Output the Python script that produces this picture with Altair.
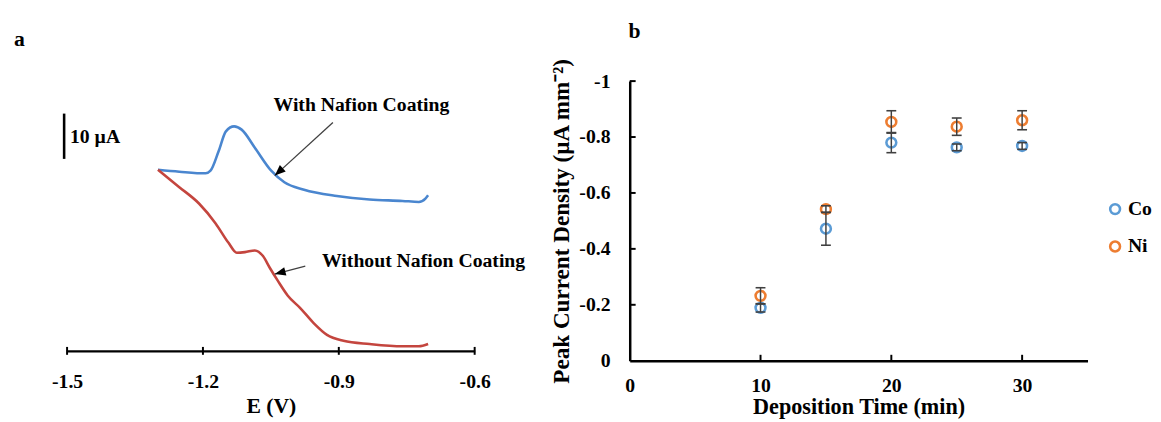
import altair as alt
import pandas as pd

FONT = "Liberation Serif"

# ---------------- Panel a : voltammograms ----------------
blue_E = [-1.2993, -1.2522, -1.1941, -1.1833, -1.1652, -1.1493, -1.1311, -1.1146, -1.0854,
          -1.0493, -1.0202, -0.9767, -0.9043, -0.8320, -0.7593, -0.7233, -0.7087, -0.7028]
blue_I = [40.0, 39.57, 39.20, 39.78, 44.13, 48.48, 49.57, 48.85, 44.85,
          39.78, 37.24, 35.59, 34.20, 33.41, 33.11, 32.89, 33.63, 34.35]
red_E = [-1.2993, -1.2522, -1.2087, -1.1724, -1.1435, -1.1254, -1.1072, -1.0854, -1.0674, -1.0528,
         -1.0348, -1.0130, -0.9841, -0.9550, -0.9261, -0.8898, -0.8320, -0.7593, -0.7233, -0.7028]
red_I = [40.0, 36.15, 32.54, 28.20, 23.85, 21.67, 21.80, 22.17, 20.93, 18.41,
         15.50, 12.24, 9.35, 6.09, 3.54, 2.24, 1.52, 1.02, 1.02, 1.52]
series_names = ["With Nafion Coating", "Without Nafion Coating"]
e_ticks = [-1.5, -1.2, -0.9, -0.6]

# annotations (data units of panel a)
ann_center_E = [-0.85]
ann_center_I = [54.35]
ann_center_txt = ["With Nafion Coating"]
ann_left_E = [-0.937, -1.4935]
ann_left_I = [19.78, 47.17]
ann_left_txt = ["Without Nafion Coating", "10 µA"]
arrow_tip_E = [-1.0413, -1.0413]
arrow_tip_I = [38.70, 16.96]
arrow_tail_E = [-0.913, -0.974]
arrow_tail_I = [50.43, 18.70]
arrow_angle = [227.5, 255.5]
scalebar_E = [-1.5065]
scalebar_lo = [42.39]
scalebar_hi = [52.39]
label_a_E = [-1.6174]
label_a_I = [67.4]

# ---------------- Panel b : peak current density ----------------
time_min = [10, 15, 20, 25, 30]
co_mean = [-0.189, -0.472, -0.780, -0.763, -0.768]
co_err = [0.015, 0.059, 0.036, 0.012, 0.012]
ni_mean = [-0.232, -0.542, -0.854, -0.837, -0.860]
ni_err = [0.029, 0.012, 0.040, 0.031, 0.034]
metals = ["Co", "Ni"]
t_ticks = [0, 10, 20, 30]
v_ticks = [0, -0.2, -0.4, -0.6, -0.8, -1]
label_b_t = [-0.1]
label_b_v = [-1.153]

BLUE_A, RED_A = "#4A86CF", "#C4453E"
BLUE_B, ORANGE_B = "#5B9BD5", "#ED7D31"
ERR = "#404040"

W_A, H_A = 414, 274
W_B, H_B = 465, 284

# ---------- build panel a ----------
rows = []
for name, es, cs in [(series_names[0], blue_E, blue_I), (series_names[1], red_E, red_I)]:
    for i, (e, c) in enumerate(zip(es, cs)):
        rows.append({"series": name, "E": e, "I": c, "idx": i})
df_curves = pd.DataFrame(rows)

axis_a = alt.Axis(values=e_ticks, labelExpr="'-' + format(abs(datum.value), '.1f')",
                  title="E (V)", ticks=False, tickSize=0, grid=False, labelPadding=21,
                  titlePadding=5, domainWidth=2.5, domainColor="black",
                  labelFontSize=20, titleFontSize=22, labelFlush=False)
scale_xa = alt.Scale(domain=[-1.5, -0.6], nice=False, zero=False)
scale_ya = alt.Scale(domain=[0, H_A / 4.6], nice=False, zero=False)


def xa(f):
    return alt.X(f, scale=scale_xa, axis=axis_a)


def ya(f):
    return alt.Y(f, scale=scale_ya, axis=None)


lines = alt.Chart(df_curves).mark_line(strokeWidth=2.6, interpolate="monotone").encode(
    x=xa("E:Q"), y=ya("I:Q"),
    color=alt.Color("series:N", scale=alt.Scale(domain=series_names, range=[BLUE_A, RED_A]), legend=None),
    order="idx:Q",
)

ticks_a = alt.Chart(pd.DataFrame({"E": e_ticks})).mark_rule(color="black", strokeWidth=2).encode(
    x=xa("E:Q"), y=alt.value(H_A - 4), y2=alt.value(H_A + 4))

sbar = alt.Chart(pd.DataFrame({"E": scalebar_E, "I": scalebar_lo, "I2": scalebar_hi})).mark_rule(
    color="black", strokeWidth=2.6).encode(x=xa("E:Q"), y=ya("I:Q"), y2="I2:Q")

txt_c = alt.Chart(pd.DataFrame({"E": ann_center_E, "I": ann_center_I, "t": ann_center_txt})).mark_text(
    align="center", baseline="middle", font=FONT, fontWeight="bold", fontSize=20, color="black"
).encode(x=xa("E:Q"), y=ya("I:Q"), text="t:N")

txt_l = alt.Chart(pd.DataFrame({"E": ann_left_E, "I": ann_left_I, "t": ann_left_txt})).mark_text(
    align="left", baseline="middle", font=FONT, fontWeight="bold", fontSize=20, color="black"
).encode(x=xa("E:Q"), y=ya("I:Q"), text="t:N")

df_arrow = pd.DataFrame({"E": arrow_tip_E, "I": arrow_tip_I, "E2": arrow_tail_E, "I2": arrow_tail_I,
                         "ang": arrow_angle})
arrow_lines = alt.Chart(df_arrow).mark_rule(color=ERR, strokeWidth=1.3).encode(
    x=xa("E:Q"), y=ya("I:Q"), x2="E2:Q", y2="I2:Q")
arrow_heads = alt.Chart(df_arrow).mark_point(
    shape="M0,0L0.4,1L-0.4,1Z", filled=True, color="black", size=484, opacity=1, strokeWidth=0
).encode(x=xa("E:Q"), y=ya("I:Q"), angle=alt.Angle("ang:Q", scale=None))

lab_a = alt.Chart(pd.DataFrame({"E": label_a_E, "I": label_a_I, "t": ["a"]})).mark_text(
    align="left", baseline="alphabetic", font=FONT, fontWeight="bold", fontSize=22, color="black"
).encode(x=xa("E:Q"), y=ya("I:Q"), text="t:N")

panel_a = alt.layer(lines, ticks_a, sbar, arrow_lines, arrow_heads, txt_c, txt_l, lab_a).properties(
    width=W_A, height=H_A)

# ---------- build panel b ----------
rows = []
for m, means, errs in [("Co", co_mean, co_err), ("Ni", ni_mean, ni_err)]:
    for t, v, e in zip(time_min, means, errs):
        rows.append({"metal": m, "t": t, "v": v, "lo": v + e, "hi": v - e})
df_b = pd.DataFrame(rows)

axis_xb = alt.Axis(values=t_ticks, title="Deposition Time (min)", ticks=False, tickSize=0, grid=False,
                   labelPadding=15, titlePadding=1, domainWidth=2.5, domainColor="black",
                   labelFontSize=20, titleFontSize=22.5, labelFlush=False)
axis_yb = alt.Axis(values=v_ticks,
                   labelExpr="datum.value == 0 ? '0' : '-' + format(abs(datum.value), '~g')",
                   title="Peak Current Density (µA mm⁻²)", ticks=False, tickSize=0, grid=False,
                   labelPadding=20, titlePadding=6, domainWidth=2.5, domainColor="black",
                   labelFontSize=20, titleFontSize=23.5, labelFlush=False)
scale_xb = alt.Scale(domain=[0, 35], nice=False, zero=False)
scale_yb = alt.Scale(domain=[0, -1], nice=False, zero=False)


def xb(f):
    return alt.X(f, scale=scale_xb, axis=axis_xb)


def yb(f):
    return alt.Y(f, scale=scale_yb, axis=axis_yb)


tick_x_b = alt.Chart(pd.DataFrame({"t": t_ticks[1:]})).mark_rule(color="black", strokeWidth=2).encode(
    x=xb("t:Q"), y=alt.value(H_B), y2=alt.value(H_B - 6))
tick_y_b = alt.Chart(pd.DataFrame({"v": v_ticks[1:]})).mark_rule(color="black", strokeWidth=2).encode(
    y=yb("v:Q"), x=alt.value(0), x2=alt.value(6))

pts = alt.Chart(df_b).mark_point(filled=False, size=100, strokeWidth=2.6, opacity=1).encode(
    x=xb("t:Q"), y=yb("v:Q"),
    color=alt.Color("metal:N", scale=alt.Scale(domain=metals, range=[BLUE_B, ORANGE_B]),
                    legend=alt.Legend(title=None, orient="none", legendX=483, legendY=120,
                                      labelFont=FONT, labelFontSize=20, labelFontWeight="bold",
                                      labelColor="black", symbolType="circle", symbolSize=100,
                                      symbolStrokeWidth=2.6, rowPadding=16, labelOffset=3, padding=0)),
)
err_rule = alt.Chart(df_b).mark_rule(color=ERR, strokeWidth=1.5).encode(
    x=xb("t:Q"), y=yb("lo:Q"), y2="hi:Q")
cap_lo = alt.Chart(df_b).mark_tick(orient="horizontal", size=10, thickness=1.6, color=ERR, opacity=1).encode(
    x=xb("t:Q"), y=yb("lo:Q"))
cap_hi = alt.Chart(df_b).mark_tick(orient="horizontal", size=10, thickness=1.6, color=ERR, opacity=1).encode(
    x=xb("t:Q"), y=yb("hi:Q"))

lab_b = alt.Chart(pd.DataFrame({"t": label_b_t, "v": label_b_v, "s": ["b"]})).mark_text(
    align="left", baseline="alphabetic", font=FONT, fontWeight="bold", fontSize=22, color="black"
).encode(x=xb("t:Q"), y=yb("v:Q"), text="s:N")

panel_b = alt.layer(tick_x_b, tick_y_b, pts, err_rule, cap_lo, cap_hi, lab_b).properties(
    width=W_B, height=H_B)

chart = alt.hconcat(panel_a, panel_b, spacing=157.5, bounds="flush").resolve_scale(
    color="independent"
).properties(
    padding={"left": 5, "top": 9, "right": 0, "bottom": 0}
).configure_view(stroke=None).configure_axis(
    labelFont=FONT, titleFont=FONT, labelFontWeight="bold", titleFontWeight="bold",
    labelColor="black", titleColor="black"
)

chart.save("out.html", embed_options={"renderer": "svg", "actions": False})
